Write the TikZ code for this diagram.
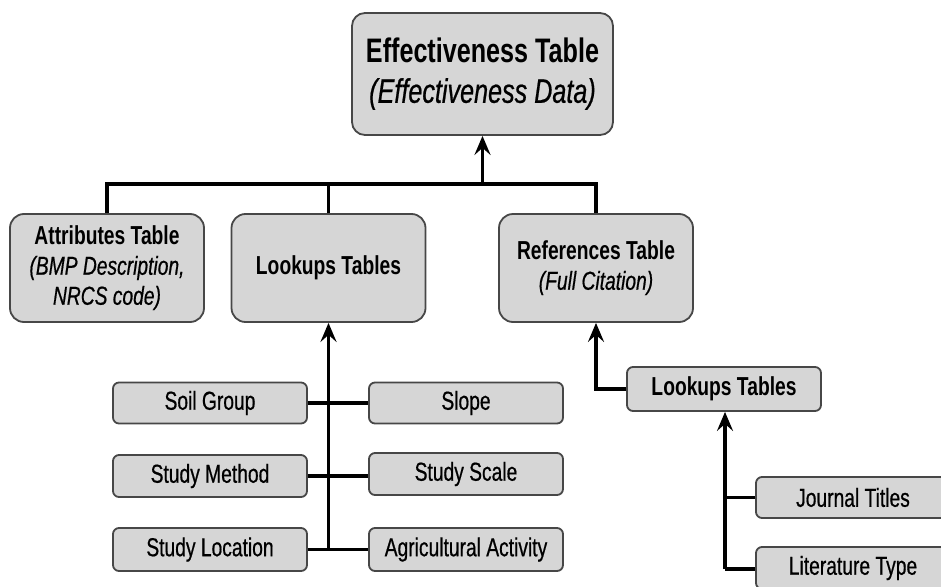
\documentclass[tikz,border=0pt]{standalone}
\usepackage{fontspec}
\setmainfont{Liberation Sans}[FakeStretch=0.74, UprightFeatures={FakeBold=0.6}, ItalicFeatures={FakeBold=0.6}]
\usetikzlibrary{arrows.meta}
\definecolor{boxfill}{HTML}{D6D6D6}
\definecolor{boxline}{HTML}{474747}
\tikzset{
  tbox/.style={draw=boxline, line width=1.8pt, fill=boxfill, align=center, inner sep=0pt, text=black},
  bigbox/.style={tbox, minimum width=261pt, minimum height=122pt, rounded corners=13pt, font=\fontsize{34}{40}\selectfont},
  midbox/.style={tbox, minimum width=194pt, minimum height=108pt, rounded corners=14pt, font=\fontsize{26}{30}\selectfont},
  smallbox/.style={tbox, minimum width=194pt, minimum height=41pt, rounded corners=6pt, font=\fontsize{26}{30}\selectfont},
  conn/.style={line width=3.8pt, black},
  arr/.style={conn, -{Stealth[length=19pt,width=16pt,inset=7pt]}},
}
\begin{document}
\begin{tikzpicture}[x=1pt,y=-1pt]
\useasboundingbox (0,0) rectangle (941,586);
\clip (0,0) rectangle (941,586);
% nodes
\node[bigbox] (top) at (482.5,74) {\textbf{Effectiveness Table}\\\textit{(Effectiveness Data)}};
\node[midbox] (attr) at (107,268) {\textbf{Attributes Table}\\\textit{(BMP Description,}\\\textit{NRCS code)}};
\node[midbox] (lookA) at (328.5,268) {\textbf{Lookups Tables}};
\node[midbox] (ref) at (596,268) {\textbf{References Table}\\\textit{(Full Citation)}};
\node[smallbox, minimum height=44pt] (lookB) at (724,389) {\textbf{Lookups Tables}};
\node[smallbox] (soil) at (210,403) {Soil Group};
\node[smallbox, minimum height=42pt] (method) at (210,476) {Study Method};
\node[smallbox, minimum height=43pt] (location) at (210,549.5) {Study Location};
\node[smallbox] (slope) at (466,403) {Slope};
\node[smallbox, minimum height=42pt] (scale) at (466,474) {Study Scale};
\node[smallbox, minimum height=43pt] (agri) at (466,549.5) {Agricultural Activity};
\node[smallbox] (journal) at (853,497.5) {Journal Titles};
\node[smallbox, minimum height=42pt] (lit) at (853,568) {Literature Type};
% coordinates
\coordinate (hubT) at (482.5,184);
\coordinate (busL) at (attr.north |- hubT);
\coordinate (busR) at (ref.north |- hubT);
\coordinate (trunkA) at (328.5,549.5);
\coordinate (elbowR) at (ref.south |- lookB.west);
\coordinate (trunkB) at (725,569);
% connectors
\draw[conn] (attr.north) -- (busL) -- (busR) -- (ref.north);
\draw[conn] (lookA.north) -- (lookA.north |- hubT);
\draw[arr] (hubT) -- (top.south);
\draw[arr] (trunkA) -- (lookA.south);
\draw[conn] (soil.east) -- (slope.west);
\draw[conn] (method.east) -- (method.east -| scale.west);
\draw[conn] (location.east) -- (agri.west);
\draw[arr] (lookB.west) -- (elbowR) -- (ref.south);
\draw[arr] (trunkB) -- (trunkB |- lookB.south);
\draw[conn] (journal.west) -- (journal.west -| trunkB);
\draw[conn] (lit.west |- trunkB) -- (trunkB);
\end{tikzpicture}
\end{document}
